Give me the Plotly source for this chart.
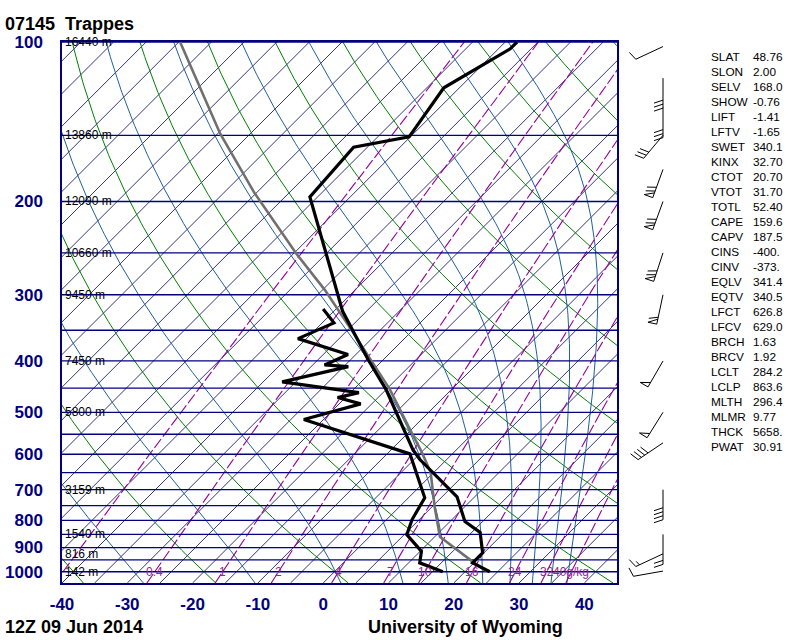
import numpy as np
import plotly.graph_objects as go

# ---- sounding 07145 Trappes, 12Z 09 Jun 2014 ----
temp_p = [100, 103, 122, 151, 158, 196, 322, 398, 453, 517, 588, 614, 722, 804, 843, 921, 962, 1000]
temp_t = [-53.2, -53.2, -57.4, -55.2, -62.1, -61.2, -38.7, -27.3, -20.0, -13.3, -6.7, -4.1,
          7.3, 12.3, 16.3, 19.8, 19.8, 23.8]

dwpt_p = [319, 339, 363, 389, 407, 410, 438, 459, 469, 482, 516, 599, 725, 797, 851, 915, 962, 1000]
dwpt_t = [-42.0, -38.2, -41.3, -31.2, -33.2, -29.3, -37.1, -23.7, -26.2, -21.7, -28.0, -6.5,
          2.5, 3.9, 5.4, 10.2, 11.7, 16.6]

parcel_p = [1000, 958, 859, 754, 649, 594, 539, 453, 354, 294, 250, 193, 149, 100]
parcel_t = [23.4, 19.7, 10.8, 5.4, -0.5, -5.0, -10.2, -19.4, -33.7, -44.6, -54.8, -70.2, -84.6, -104.8]

# wind barbs: pressure, direction (deg), speed (kt)
wind_p = [102, 117, 133, 150, 174, 200, 250, 300, 400, 500, 571, 700, 850, 925, 997]
wind_dir = [245, 180, 180, 220, 200, 200, 198, 192, 210, 212, 236, 180, 180, 245, 260]
wind_spd = [10, 30, 30, 30, 70, 70, 70, 60, 50, 50, 40, 40, 20, 15, 10]

# standard level heights
hgt_p = [100, 150, 200, 250, 300, 400, 500, 700, 850, 925, 1000]
hgt_txt = ["16440 m", "13860 m", "12090 m", "10660 m", "9450 m", "7450 m", "5800 m",
           "3159 m", "1540 m", "816 m", "142 m"]

# station indices
idx_names = ["SLAT", "SLON", "SELV", "SHOW", "LIFT", "LFTV", "SWET", "KINX", "CTOT", "VTOT",
             "TOTL", "CAPE", "CAPV", "CINS", "CINV", "EQLV", "EQTV", "LFCT", "LFCV", "BRCH",
             "BRCV", "LCLT", "LCLP", "MLTH", "MLMR", "THCK", "PWAT"]
idx_vals = ["48.76", "2.00", "168.0", "-0.76", "-1.41", "-1.65", "340.1", "32.70", "20.70",
            "31.70", "52.40", "159.6", "187.5", "-400.", "-373.", "341.4", "340.5", "626.8",
            "629.0", "1.63", "1.92", "284.2", "863.6", "296.4", "9.77", "5658.", "30.91"]

# background lines of the diagram
isobars = list(range(100, 1001, 50))
isotherms = list(range(-160, 46, 5))
dry_theta = [233.15 + 20 * k for k in range(12)]      # K
moist_thetae = [243.15 + 20 * k for k in range(10)]   # K
mix_ratios = [0.1, 0.4, 1, 2, 4, 7, 10, 16, 24, 32, 40]  # g/kg
mix_labels = ["", "0.4", "1", "2", "4", "7", "10", "16", "24", "32", "40g/kg"]
xticks = list(range(-40, 41, 10))
yticks = list(range(100, 1001, 100))

SKEW = 35.25
P_BOT, P_TOP = 1050.0, 100.0
NAVY = "#000080"
FONT = "Liberation Sans"


def skx(t, p):
    return np.asarray(t, float) + SKEW * np.log(P_BOT / np.asarray(p, float))


def theta_e(T, p):
    es = 6.112 * np.exp(17.67 * (T - 273.15) / (T - 29.65))
    es = np.minimum(es, 0.5 * p)
    ws = 0.622 * es / (p - es)
    return T * (1000.0 / p) ** 0.2857 * np.exp(2.5e6 * ws / (1004.0 * T))


def moist_t(the, p):
    lo = np.full_like(p, 150.0)
    hi = np.full_like(p, 320.0)
    for _ in range(60):
        mid = 0.5 * (lo + hi)
        big = theta_e(mid, p) > the
        hi = np.where(big, mid, hi)
        lo = np.where(big, lo, mid)
    return 0.5 * (lo + hi) - 273.15


def mix_td(w, p):
    e = w * p / (622.0 + w)
    a = np.log(e / 6.112)
    return 243.5 * a / (17.67 - a)


def joined(xs, ys):
    X, Y = [], []
    for x, y in zip(xs, ys):
        X += list(x) + [None]
        Y += list(y) + [None]
    return X, Y


pg = np.geomspace(P_BOT, P_TOP, 150)
fig = go.Figure()

# isotherms
X, Y = joined([skx([t, t], [P_BOT, P_TOP]) for t in isotherms], [[P_BOT, P_TOP]] * len(isotherms))
fig.add_trace(go.Scatter(x=X, y=Y, mode="lines", line=dict(color="#000068", width=0.8)))

# dry adiabats
X, Y = joined([skx(th * (pg / 1000.0) ** 0.2857 - 273.15, pg) for th in dry_theta], [pg] * len(dry_theta))
fig.add_trace(go.Scatter(x=X, y=Y, mode="lines", line=dict(color="#008000", width=1)))

# moist adiabats
X, Y = joined([skx(moist_t(te, pg), pg) for te in moist_thetae], [pg] * len(moist_thetae))
fig.add_trace(go.Scatter(x=X, y=Y, mode="lines", line=dict(color="#1f5f9f", width=1)))

# mixing ratio lines
X, Y = joined([skx(mix_td(w, pg), pg) for w in mix_ratios], [pg] * len(mix_ratios))
fig.add_trace(go.Scatter(x=X, y=Y, mode="lines",
                         line=dict(color="#990099", width=1.1, dash="11px,3px")))

# isobars
X, Y = joined([[-40, 45]] * len(isobars), [[p, p] for p in isobars])
fig.add_trace(go.Scatter(x=X, y=Y, mode="lines", line=dict(color=NAVY, width=1.3)))

# parcel, temperature, dewpoint
fig.add_trace(go.Scatter(x=skx(parcel_t, parcel_p), y=parcel_p, mode="lines",
                         line=dict(color="#707070", width=2.6)))
fig.add_trace(go.Scatter(x=skx(temp_t, temp_p), y=temp_p, mode="lines",
                         line=dict(color="black", width=3.2)))
fig.add_trace(go.Scatter(x=skx(dwpt_t, dwpt_p), y=dwpt_p, mode="lines",
                         line=dict(color="black", width=3.2)))

ann = []
# height labels on the isobars
for p, t in zip(hgt_p, hgt_txt):
    ann.append(dict(x=-40, y=np.log10(p), xref="x", yref="y", text=t, showarrow=False,
                    xanchor="left", yanchor="middle", xshift=1,
                    font=dict(family=FONT, size=12, color="black")))
# mixing ratio labels at 1000 hPa
for w, t in zip(mix_ratios, mix_labels):
    if t:
        ann.append(dict(x=float(skx(mix_td(w, 1000.0), 1000.0)), y=3.0, xref="x", yref="y",
                        text=t, showarrow=False, xanchor="center", yanchor="middle",
                        font=dict(family=FONT, size=12, color="#9a229a")))

# plot area in pixels, for things drawn outside it
PX0, PY0, PW, PH = 62.0, 42.0, 555.0, 541.0


def to_paper(px, py):
    return (px - PX0) / PW, 1.0 - (py - PY0) / PH


def p_to_py(p):
    return PY0 + PH * np.log(p / P_TOP) / np.log(P_BOT / P_TOP)


ann.append(dict(x=to_paper(3, 0)[0], y=to_paper(0, 24)[1], xref="paper", yref="paper",
                text="<b>07145&nbsp; Trappes</b>", showarrow=False, xanchor="left", yanchor="middle",
                font=dict(family=FONT, size=18, color="black")))
ann.append(dict(x=to_paper(3, 0)[0], y=to_paper(0, 627)[1], xref="paper", yref="paper",
                text="<b>12Z 09 Jun 2014</b>", showarrow=False, xanchor="left", yanchor="middle",
                font=dict(family=FONT, size=18, color="black")))
ann.append(dict(x=to_paper(465, 0)[0], y=to_paper(0, 627)[1], xref="paper", yref="paper",
                text="<b>University of Wyoming</b>", showarrow=False, xanchor="center",
                yanchor="middle", font=dict(family=FONT, size=18, color="black")))

for i, (n, v) in enumerate(zip(idx_names, idx_vals)):
    yy = to_paper(0, 57 + 15 * i)[1]
    ann.append(dict(x=to_paper(709, 0)[0], y=yy, xref="paper", yref="paper", text=n,
                    showarrow=False, xanchor="left", yanchor="middle",
                    font=dict(family=FONT, size=11.8, color="black")))
    ann.append(dict(x=to_paper(751, 0)[0], y=yy, xref="paper", yref="paper", text=v,
                    showarrow=False, xanchor="left", yanchor="middle",
                    font=dict(family=FONT, size=11.8, color="black")))

# wind barbs
shapes = []


def seg(a, b):
    (x0, y0), (x1, y1) = to_paper(*a), to_paper(*b)
    shapes.append(dict(type="line", xref="paper", yref="paper", x0=x0, y0=y0, x1=x1, y1=y1,
                       line=dict(color="black", width=1)))


for p, d, s in zip(wind_p, wind_dir, wind_spd):
    sx, sy = 663.0, float(p_to_py(p))
    r = np.radians(d)
    ux, uy = np.sin(r), -np.cos(r)
    qx, qy = -uy, ux
    L = 30.0

    def pt(dist):
        return (sx + ux * dist, sy + uy * dist)

    seg((sx, sy), pt(L))
    pos = L
    n50 = s // 50
    n10 = (s - 50 * n50) // 10
    n5 = (s - 50 * n50 - 10 * n10) >= 5
    for _ in range(n50):
        a, b = pt(pos), pt(pos - 5)
        c = (a[0] + qx * 9, a[1] + qy * 9)
        seg(a, c)
        seg(c, b)
        pos -= 7
    for _ in range(n10):
        a = pt(pos)
        seg(a, (a[0] + qx * 9 + ux * 3, a[1] + qy * 9 + uy * 3))
        pos -= 4
    if n5:
        a = pt(pos)
        seg(a, (a[0] + qx * 4.5 + ux * 1.5, a[1] + qy * 4.5 + uy * 1.5))

fig.update_layout(
    width=800, height=640, autosize=False,
    margin=dict(l=62, r=183, t=42, b=57, pad=0),
    plot_bgcolor="white", paper_bgcolor="white",
    showlegend=False, hovermode=False,
    annotations=ann, shapes=shapes,
    xaxis=dict(range=[-40, 45], showgrid=False, zeroline=False, showline=True, mirror=True,
               linecolor=NAVY, linewidth=1.5, tickvals=xticks, ticktext=[str(v) for v in xticks],
               ticks="", ticklabelstandoff=5, automargin=False,
               tickfont=dict(family=FONT, size=17, color=NAVY, weight="bold")),
    yaxis=dict(type="log", range=[np.log10(P_BOT), np.log10(P_TOP)], showgrid=False,
               zeroline=False, showline=True, mirror=True, linecolor=NAVY, linewidth=1.5,
               tickvals=yticks, ticktext=[str(v) for v in yticks], ticks="",
               ticklabelstandoff=14, automargin=False,
               tickfont=dict(family=FONT, size=17, color=NAVY, weight="bold")),
)

fig.write_html("out.html", config={"displayModeBar": False},
               post_script="document.body.style.margin='0';")
